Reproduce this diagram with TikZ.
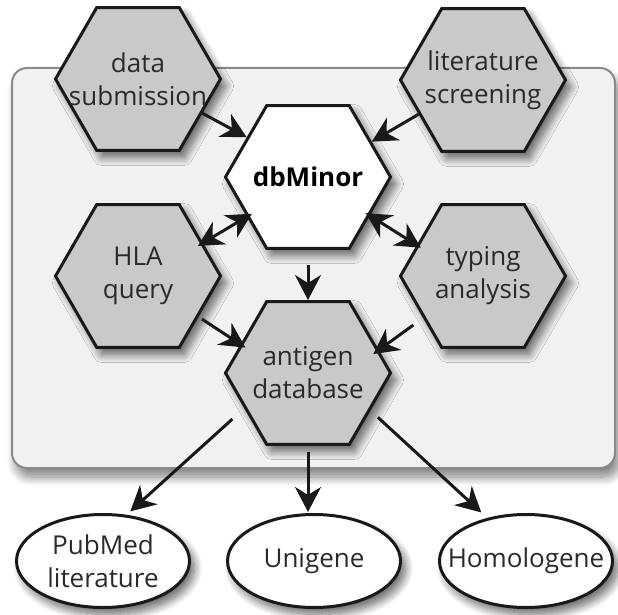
\documentclass[tikz,border=0pt]{standalone}
\usepackage{fontspec}
\setmainfont{Open Sans}
\usetikzlibrary{shapes.geometric,arrows.meta,shadows.blur}
\definecolor{hexfill}{HTML}{C9C9C9}
\definecolor{panelfill}{HTML}{F1F1F1}
\definecolor{panelline}{HTML}{8A8A8A}
\definecolor{txt}{HTML}{2A2A2A}
\tikzset{
  mytext/.style={align=center, font=\fontsize{26}{33}\selectfont, text=txt, inner sep=0pt},
  myshadow/.style={blur shadow={shadow xshift=5pt, shadow yshift=-7pt, shadow blur radius=8pt,
    shadow blur steps=12, shadow opacity=60}},
  hexbox/.style={regular polygon, regular polygon sides=6, minimum size=165pt, inner sep=0pt,
    draw=black!90, line width=3pt, fill=hexfill, myshadow},
  ovalbox/.style={ellipse, minimum width=173pt, minimum height=93pt, inner sep=0pt,
    draw=black!90, line width=3pt, fill=white, myshadow},
  conn/.style={line width=3pt, draw=black!90, -{Stealth[length=25pt,width=26pt,inset=8pt]}},
  biconn/.style={line width=3pt, draw=black!90, {Stealth[length=25pt,width=26pt,inset=8pt]}-{Stealth[length=25pt,width=26pt,inset=8pt]}},
}
\begin{document}
\begin{tikzpicture}[x=1pt,y=-1pt]
\useasboundingbox (0,0) rectangle (618,615);
% background panel
\node[draw=panelline, line width=2pt, fill=panelfill, rounded corners=15pt,
  minimum width=603pt, minimum height=400pt, inner sep=0pt,
  blur shadow={shadow xshift=4pt, shadow yshift=-9pt, shadow blur radius=9pt, shadow blur steps=12, shadow opacity=50}]
  (panel) at (313.5,268) {};
% hexagons
\node[hexbox, label={[mytext]center:data\\submission}] (ds) at (138,79) {};
\node[hexbox, label={[mytext]center:literature\\screening}] (ls) at (483,80) {};
\node[hexbox, fill=white, label={[mytext, text=black, font=\fontsize{26}{33}\selectfont\bfseries]center:dbMinor}] (db) at (308,177) {};
\node[hexbox, label={[mytext]center:HLA\\query}] (hla) at (138,276) {};
\node[hexbox, label={[mytext]center:typing\\analysis}] (ty) at (483,276) {};
\node[hexbox, label={[mytext]center:antigen\\database}] (ag) at (308,373) {};
% ellipses
\node[ovalbox, label={[mytext]center:PubMed\\literature}] (pub) at (103,561) {};
\node[ovalbox, label={[mytext]center:Unigene}] (uni) at (314,561) {};
\node[ovalbox, label={[mytext]center:Homologene}] (hom) at (526,561) {};
% connectors
\draw[conn] (ds.-28) -- (db.147);
\draw[conn] (ls.208) -- (db.29);
\draw[biconn, shorten <=-6pt, shorten >=-6pt] (hla.27) -- (db.213);
\draw[biconn, shorten <=-5pt, shorten >=-5pt] (db.-32) -- (ty.155);
\draw[conn, shorten <=15pt] (db.-90) -- (ag.90);
\draw[conn, shorten <=4pt, shorten >=-6pt] (hla.-34) -- (ag.157);
\draw[conn, shorten <=12pt, shorten >=-7pt] (ty.215) -- (ag.18);
\draw[conn, shorten <=16pt, shorten >=5pt] (ag.209) -- (pub.63);
\draw[conn, shorten <=6pt, shorten >=1pt] (ag.-90) -- (ag.-90 |- uni.north);
\draw[conn, shorten <=10pt, shorten >=8pt] (ag.-31) -- (hom.132);
\end{tikzpicture}
\end{document}
